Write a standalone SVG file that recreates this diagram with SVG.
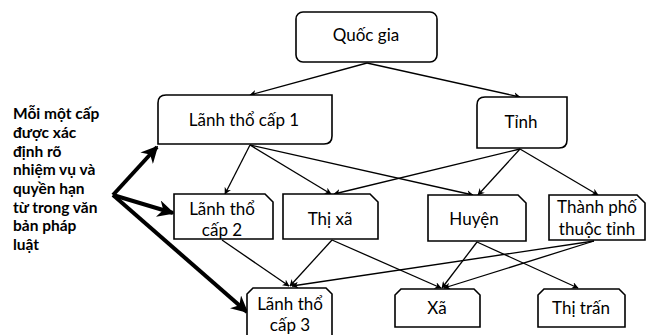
<svg xmlns="http://www.w3.org/2000/svg" width="646" height="335" viewBox="0 0 646 335">
  <defs>
    <marker id="tip" viewBox="0 0 10 10" refX="9" refY="5" markerWidth="7" markerHeight="7" markerUnits="userSpaceOnUse" orient="auto">
      <path d="M0,0 L10,5 L0,10 L3,5 z" fill="#000"/>
    </marker>
    <marker id="bigtip" viewBox="0 0 10 10" refX="9" refY="5" markerWidth="17" markerHeight="17" markerUnits="userSpaceOnUse" orient="auto">
      <path d="M0,0 L10,5 L0,10 L3,5 z" fill="#000"/>
    </marker>
  </defs>
  <style>
    .box { fill: #fff; stroke: #000; stroke-width: 1.6; }
    .lbl { font-family: Lato, "Liberation Sans", sans-serif; font-size: 17px; fill: #000; text-anchor: middle; }
    .note { font-family: Lato, "Liberation Sans", sans-serif; font-size: 15.5px; font-weight: bold; fill: #000; }
    .link { stroke: #000; stroke-width: 1.3; fill: none; marker-end: url(#tip); }
    .bold { stroke: #000; stroke-width: 4; fill: none; marker-end: url(#bigtip); }
  </style>
  <rect width="646" height="335" fill="#fff"/>

  <!-- connectors -->
  <g id="connectors">
    <line class="link" x1="367" y1="63" x2="250" y2="95"/>
    <line class="link" x1="367" y1="63" x2="520" y2="97"/>

    <line class="link" x1="250" y1="145" x2="225" y2="194"/>
    <line class="link" x1="250" y1="145" x2="331" y2="194"/>
    <line class="link" x1="250" y1="145" x2="473" y2="195"/>

    <line class="link" x1="520" y1="149" x2="334" y2="194"/>
    <line class="link" x1="520" y1="149" x2="478" y2="195"/>
    <line class="link" x1="520" y1="149" x2="598" y2="195"/>

    <line class="link" x1="222" y1="240" x2="289" y2="286"/>
    <line class="link" x1="332" y1="240" x2="290" y2="286"/>
    <line class="link" x1="332" y1="240" x2="441" y2="288"/>
    <line class="link" x1="477" y1="242" x2="442" y2="288"/>
    <line class="link" x1="477" y1="242" x2="578" y2="288"/>
    <line class="link" x1="594" y1="241" x2="292" y2="286"/>
    <line class="link" x1="594" y1="241" x2="444" y2="288"/>

    <line class="bold" x1="113" y1="195" x2="157" y2="147"/>
    <line class="bold" x1="113" y1="195" x2="173" y2="213"/>
    <line class="bold" x1="113" y1="195" x2="247" y2="312"/>
  </g>

  <!-- top level -->
  <g id="quoc-gia">
    <rect class="box" x="296" y="12" width="141" height="50" rx="7"/>
    <text class="lbl" x="366" y="41">Quốc gia</text>
  </g>

  <!-- level 1 -->
  <g id="lanh-tho-cap-1">
    <path class="box" d="M166,95 H332 V136 Q332,144 324,144 H158 V103 Q158,95 166,95 z"/>
    <text class="lbl" x="244" y="126">Lãnh thổ cấp 1</text>
  </g>
  <g id="tinh">
    <path class="box" d="M485,97 H567 V140 Q567,148 559,148 H477 V105 Q477,97 485,97 z"/>
    <text class="lbl" x="521" y="128">Tỉnh</text>
  </g>

  <!-- level 2 -->
  <g id="lanh-tho-cap-2">
    <path class="box" d="M174,194 H265 L273,202 V239 H174 z"/>
    <text class="lbl" x="222" y="215">Lãnh thổ</text>
    <text class="lbl" x="222" y="236">cấp 2</text>
  </g>
  <g id="thi-xa">
    <path class="box" d="M283,194 H370 L378,202 V239 H283 z"/>
    <text class="lbl" x="330" y="225">Thị xã</text>
  </g>
  <g id="huyen">
    <path class="box" d="M428,195 H518 L526,203 V241 H428 z"/>
    <text class="lbl" x="474" y="225">Huyện</text>
  </g>
  <g id="thanh-pho-thuoc-tinh">
    <path class="box" d="M549,195 H637 L645,203 V240 H549 z"/>
    <text class="lbl" x="597" y="213">Thành phố</text>
    <text class="lbl" x="597" y="235">thuộc tỉnh</text>
  </g>

  <!-- level 3 -->
  <g id="lanh-tho-cap-3">
    <path class="box" d="M253,288 H326 L332,294 V345 H247 V294 z"/>
    <text class="lbl" x="290" y="310">Lãnh thổ</text>
    <text class="lbl" x="290" y="331">cấp 3</text>
  </g>
  <g id="xa">
    <path class="box" d="M401,289 H474 L480,295 V327 H395 V295 z"/>
    <text class="lbl" x="437" y="314">Xã</text>
  </g>
  <g id="thi-tran">
    <path class="box" d="M544,289 H619 L625,295 V327 H538 V295 z"/>
    <text class="lbl" x="581" y="314">Thị trấn</text>
  </g>

  <!-- side note -->
  <g id="ghi-chu">
    <text class="note" x="13" y="119">Mỗi một cấp</text>
    <text class="note" x="13" y="138">được xác</text>
    <text class="note" x="13" y="157">định rõ</text>
    <text class="note" x="13" y="175">nhiệm vụ và</text>
    <text class="note" x="13" y="194">quyền hạn</text>
    <text class="note" x="13" y="213">từ trong văn</text>
    <text class="note" x="13" y="231">bản pháp</text>
    <text class="note" x="13" y="250">luật</text>
  </g>
</svg>
